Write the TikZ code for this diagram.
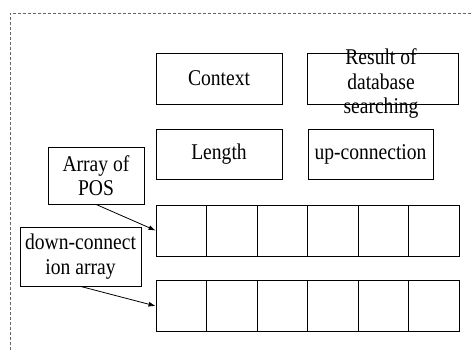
\documentclass[tikz,border=0pt]{standalone}
\usepackage{fontspec}
\setmainfont{Liberation Serif}[FakeStretch=0.87]
\usetikzlibrary{arrows.meta}
\tikzset{
  field/.style={draw,line width=0.8pt,minimum height=51pt,inner sep=0pt},
  cell/.style={draw,line width=0.8pt,minimum width=50.5pt,minimum height=51pt,inner sep=0pt},
  tag/.style={draw,line width=0.8pt,align=center,inner sep=0pt},
  pointer/.style={line width=0.8pt,-{Latex[length=7pt,width=5pt]}}
}
\begin{document}
\begin{tikzpicture}[x=1pt,y=-1pt,font=\fontsize{22.5}{24.5}\selectfont]
  \clip (0,0) rectangle (473,352);
  \draw[densely dashed,gray!80!black,line width=0.7pt] (10,360) -- (10,13) -- (480,13);
  \node[field,minimum width=126pt] (context) at (219,78.5) {Context};
  \node[field,minimum width=151pt] (result) at (382.5,78.5) {};
  \node[align=center,inner sep=0pt] (resulttext) at (381,84) {Result of\\database\\searching};
  \node[field,minimum width=126pt,minimum height=50pt] (length) at (219,154) {Length};
  \node[field,minimum width=125pt,minimum height=50pt] (upconn) at (370.5,154) {up-connection};
  \foreach \i in {0,...,5} {
    \node[cell] (pos\i) at (181.25+50.5*\i,230.5) {};
    \node[cell] (down\i) at (181.25+50.5*\i,306) {};
  }
  \node[tag,minimum width=96pt,minimum height=57pt] (posbox) at (96,175.5) {Array of\\POS};
  \node[tag,minimum width=121pt,minimum height=59pt] (downbox) at (80.5,256.5) {down-connect\\ion array};
  \draw[pointer] (posbox.south) -- (pos0.west);
  \draw[pointer] (downbox.south) -- (down0.west);
\end{tikzpicture}
\end{document}
